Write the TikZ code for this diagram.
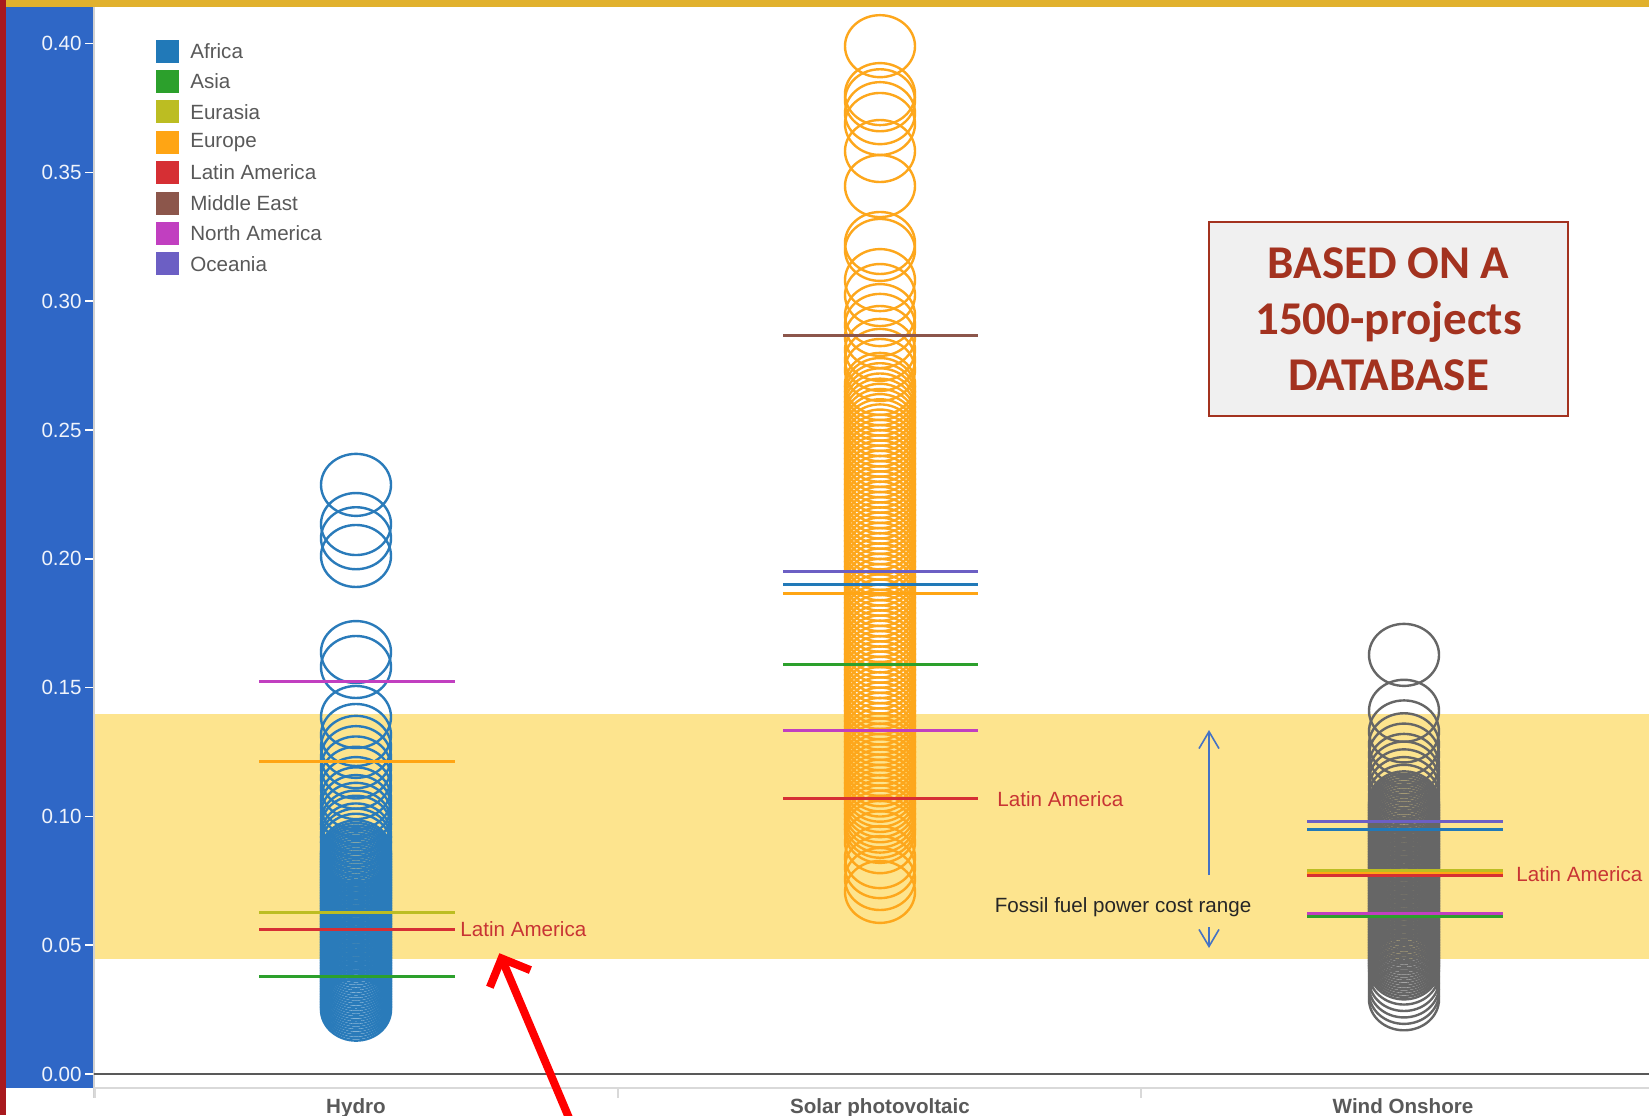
\documentclass[tikz,border=0pt]{standalone}
\usepackage{fontspec}
\setmainfont{Liberation Sans}
\newfontfamily\boxfont{Carlito}
\usetikzlibrary{positioning,arrows.meta}

\definecolor{africa}{HTML}{2179B8}
\definecolor{asia}{HTML}{2CA02C}
\definecolor{eurasia}{HTML}{BCBD22}
\definecolor{europe}{HTML}{FFA514}
\definecolor{latam}{HTML}{D62F34}
\definecolor{mideast}{HTML}{8C564B}
\definecolor{namerica}{HTML}{C13FC0}
\definecolor{oceania}{HTML}{6C5FC4}
\definecolor{hydrocol}{HTML}{2A7BBA}
\definecolor{solarcol}{HTML}{FDA71C}
\definecolor{windcol}{HTML}{666666}
\definecolor{bandcol}{HTML}{FDE48E}
\definecolor{panelblue}{HTML}{2F67C6}
\definecolor{slidered}{HTML}{A8191E}
\definecolor{slidegold}{HTML}{E1B12D}
\definecolor{dbred}{HTML}{A3321F}
\definecolor{rangeblue}{HTML}{4472C4}
\definecolor{labelred}{HTML}{C83434}

\tikzset{
  chartfont/.style={font=\fontsize{10.3}{12}\selectfont},
  ring/.style={line width=1.2pt},
  median/.style={line width=1.5pt},
  ticklabel/.style={chartfont, text=white!93!panelblue, anchor=east, inner sep=0pt},
  legbox/.style={minimum size=11.5pt, inner sep=0pt},
  legtext/.style={chartfont, text=black!65, inner sep=0pt},
  latlabel/.style={chartfont, text=labelred, anchor=west, inner sep=0pt},
  catlabel/.style={chartfont, font=\fontsize{10.3}{12}\selectfont\bfseries, text=black!65, anchor=base},
  dbbox/.style={draw=dbred, line width=1pt, fill=black!6, minimum width=179.5pt, minimum height=97pt,
    align=center, text=dbred, font=\boxfont\bfseries\fontsize{23.5}{28}\selectfont},
}

\begin{document}
\begin{tikzpicture}[x=0.5pt, y=-0.5pt]
\useasboundingbox (0,0) rectangle (1649,1115);

% slide frame
\fill[white] (0,0) rectangle (1649,1115);
\fill[slidegold] (0,0) rectangle (1649,7);
\fill[panelblue] (6,7) rectangle (93,1088);
\fill[slidered] (0,0) rectangle (6,1115);

\begin{scope}[shift={(0,1074)}, y=1288pt]

% fossil fuel cost band
\fill[bandcol] (94,0.0446) rectangle (1649,0.1398);

% y axis
\foreach \v/\t in {0/0.00, 0.05/0.05, 0.1/0.10, 0.15/0.15, 0.2/0.20, 0.25/0.25, 0.3/0.30, 0.35/0.35, 0.4/0.40} {
  \node[ticklabel] (tick\t) at (82,\v) {\t};
  \draw[white, line width=0.8pt] (85,\v) -- (93,\v);
}

% Hydro
\foreach \v in {0.2287,0.2135,0.208,0.2011,0.1638,0.158,0.1386,0.1316,0.127,0.123,0.119,0.115,
                0.111,0.107,0.104,0.101,0.098,0.096,0.093,0.091,0.089}
  \draw[ring, hydrocol] (356,\v) ellipse [x radius=17.5pt, y radius=15.5pt];
\foreach \v in {0.025,0.026,...,0.087}
  \draw[ring, hydrocol] (356,\v) ellipse [x radius=17.5pt, y radius=15.5pt];

% Solar photovoltaic
\foreach \v in {0.399,0.3804,0.378,0.373,0.3688,0.3583,0.3447,0.3226,0.3199,0.3082,0.3024,
                0.2946,0.2908,0.2861,0.2811,0.2772,0.2733,0.09,0.0842,0.0803,0.0757,0.0707}
  \draw[ring, solarcol] (880,\v) ellipse [x radius=17.5pt, y radius=15.5pt];
\foreach \v in {0.094,0.096,...,0.268}
  \draw[ring, solarcol] (880,\v) ellipse [x radius=17.5pt, y radius=15.5pt];

% Wind Onshore
\foreach \v in {0.1627,0.141,0.133,0.128,0.124,0.12,0.117,0.114,0.111,0.108,
                0.029,0.0315,0.034,0.0365,0.039}
  \draw[ring, windcol] (1404,\v) ellipse [x radius=17.5pt, y radius=15.5pt];
\foreach \v in {0.041,0.042,...,0.106}
  \draw[ring, windcol] (1404,\v) ellipse [x radius=17.5pt, y radius=15.5pt];

% regional medians
\foreach \v/\c in {0.1523/namerica, 0.1212/europe, 0.0626/eurasia, 0.0562/latam, 0.0378/asia}
  \draw[median, \c] (259,\v) -- (455,\v);
\foreach \v/\c in {0.2866/mideast, 0.195/oceania, 0.1902/africa, 0.1865/europe,
                   0.159/asia, 0.1335/namerica, 0.1068/latam}
  \draw[median, \c] (783,\v) -- (978,\v);
\foreach \v/\c in {0.0982/oceania, 0.0951/africa, 0.0792/eurasia, 0.0778/europe,
                   0.0772/latam, 0.0625/namerica, 0.0613/asia}
  \draw[median, \c] (1307,\v) -- (1503,\v);

\node[latlabel] (laHydro) at (460,0.0562) {Latin America};
\node[latlabel] (laSolar) at (997,0.1068) {Latin America};
\node[latlabel] (laWind) at (1516,0.0775) {Latin America};

\end{scope}

% axes
\draw[black!18, line width=1pt] (94,7) -- (94,1098);
\draw[black!65, line width=1.3pt] (94,1074) -- (1649,1074);
\draw[black!15, line width=1pt] (94,1088) -- (1649,1088);
\foreach \x in {95,618,1141}
  \draw[black!15, line width=1pt] (\x,1088) -- (\x,1098);

\node[catlabel] (hydro) at (356,1113) {Hydro};
\node[catlabel] (solar) at (880,1113) {Solar photovoltaic};
\node[catlabel] (wind) at (1403,1113) {Wind Onshore};

% legend
\foreach \name/\col [count=\i] in {Africa/africa, Asia/asia, Eurasia/eurasia, Europe/europe,
    Latin America/latam, Middle East/mideast, North America/namerica, Oceania/oceania} {
  \node[legbox, fill=\col] (box\i) at (167,{51+30.4*(\i-1)}) {};
  \node[legtext, right=5.5pt of box\i] (leg\i) {\name};
}

% database note
\node[dbbox] (db) at (1388.5,319) {BASED ON A\\1500-projects\\DATABASE};

% fossil fuel range
\node[chartfont, text=black!85, inner sep=0pt] (fossil) at (1123,907) {Fossil fuel power cost range};
\coordinate (upFrom) at (1209,875);
\coordinate (upTo) at (1209,730);
\coordinate (downFrom) at (1209,927);
\coordinate (downTo) at (1209,948);
\draw[rangeblue, line width=0.8pt, -{Straight Barb[length=8.5pt, width=10pt]}] (upFrom) -- (upTo);
\draw[rangeblue, line width=0.8pt, -{Straight Barb[length=8.5pt, width=10pt]}] (downFrom) -- (downTo);

% pointer
\coordinate (arrTail) at (572,1125);
\draw[red, line width=4pt, -{Straight Barb[length=11pt, width=22pt]}]
  (arrTail) -- ([xshift=-12pt,yshift=-8pt]laHydro.south);

\end{tikzpicture}
\end{document}
